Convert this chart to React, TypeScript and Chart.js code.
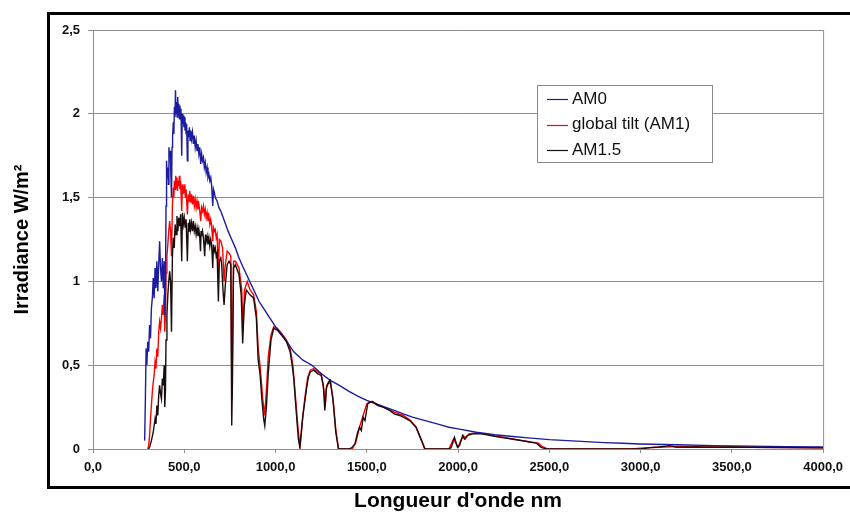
import React, { useEffect, useRef } from "react";
import { Chart, registerables } from "chart.js";

Chart.register(...registerables);

// ---- Data (wavelength nm, irradiance W/m²/nm) ----
const am0Wl = [
  283, 287, 291, 295, 300, 305, 310, 315, 320, 325, 330, 335, 340, 345, 350, 355, 360, 365, 370, 375,
  380, 385, 390, 394, 397, 400, 403, 406, 410, 413, 416, 420, 423, 426, 430, 433, 436, 440, 443, 446,
  449, 452, 455, 458, 461, 464, 467, 470, 473, 476, 479, 482, 486, 489, 492, 495, 498, 501, 504, 507,
  510, 513, 517, 520, 524, 528, 532, 536, 540, 545, 550, 555, 560, 565, 570, 575, 580, 585, 590, 595,
  600, 605, 610, 615, 620, 625, 630, 635, 640, 645, 650, 656, 660, 665, 670, 680, 690, 700, 710, 720,
  740, 760, 780, 800, 820, 850, 880, 910, 940, 970, 1000, 1050, 1100, 1150, 1200, 1250, 1300, 1350,
  1400, 1450, 1500, 1550, 1600, 1650, 1700, 1750, 1800, 1850, 1900, 1950, 2000, 2100, 2200, 2300, 2400,
  2500, 2600, 2700, 2800, 2900, 3000, 3200, 3400, 3600, 3800, 4000,
];
const am0Val = [
  0.05, 0.3, 0.6, 0.5, 0.64, 0.58, 0.74, 0.66, 0.84, 0.9, 1.02, 0.9, 1.08, 0.96, 1.12, 0.94, 1.1, 1.24, 1.08, 1.0,
  1.14, 0.96, 1.12, 0.8, 0.95, 1.45, 1.72, 1.62, 1.68, 1.58, 1.8, 1.74, 1.78, 1.66, 1.5, 1.8, 1.86, 1.95, 1.88, 2.04,
  1.98, 2.14, 2.0, 2.07, 1.98, 2.1, 2.02, 2.06, 1.97, 2.05, 1.99, 2.03, 1.75, 2.0, 1.94, 1.99, 1.92, 1.98, 1.9, 1.95,
  1.88, 1.94, 1.72, 1.9, 1.86, 1.92, 1.84, 1.9, 1.85, 1.89, 1.82, 1.87, 1.8, 1.84, 1.78, 1.82, 1.76, 1.8, 1.7, 1.76,
  1.72, 1.74, 1.68, 1.71, 1.65, 1.68, 1.62, 1.64, 1.6, 1.62, 1.57, 1.45, 1.55, 1.53, 1.5, 1.48, 1.44, 1.42, 1.39, 1.36,
  1.3, 1.25, 1.2, 1.14, 1.09, 1.02, 0.95, 0.88, 0.83, 0.78, 0.73, 0.66, 0.58, 0.53, 0.5, 0.45, 0.41, 0.38,
  0.345, 0.315, 0.29, 0.27, 0.25, 0.23, 0.21, 0.19, 0.175, 0.16, 0.145, 0.13, 0.12, 0.1, 0.085, 0.075, 0.065,
  0.056, 0.05, 0.044, 0.038, 0.034, 0.03, 0.025, 0.02, 0.017, 0.014, 0.012,
];

const tiltWl = [
  300, 305, 310, 315, 320, 325, 330, 335, 340, 345, 350, 355, 360, 365, 370, 375, 380, 385, 390, 393,
  397, 400, 405, 410, 415, 420, 425, 430, 435, 440, 443, 446, 450, 453, 456, 460, 463, 466, 470, 473,
  476, 480, 486, 490, 493, 496, 500, 503, 506, 510, 517, 522, 526, 530, 535, 540, 545, 550, 555, 560,
  565, 570, 575, 580, 585, 590, 595, 600, 605, 610, 615, 620, 625, 630, 635, 640, 645, 650, 656, 660,
  665, 670, 675, 680, 687, 692, 700, 710, 718, 725, 735, 745, 755, 761, 765, 770, 780, 800, 815, 822,
  830, 845, 860, 880, 895, 905, 915, 930, 940, 950, 960, 975, 990, 1010, 1040, 1060, 1080, 1095, 1110,
  1125, 1135, 1145, 1160, 1175, 1190, 1210, 1230, 1250, 1265, 1272, 1280, 1300, 1315, 1330, 1345, 1400,
  1420, 1440, 1460, 1480, 1500, 1530, 1560, 1600, 1650, 1700, 1740, 1770, 1800, 1820, 1950, 1975, 1990,
  2000, 2015, 2030, 2040, 2060, 2100, 2150, 2200, 2250, 2300, 2350, 2400, 2440, 2460, 2490, 2950, 3000,
  3100, 3200, 3400, 3600, 3800, 4000,
];
const tiltVal = [
  0.0, 0.02, 0.08, 0.18, 0.26, 0.34, 0.4, 0.44, 0.52, 0.48, 0.6, 0.55, 0.7, 0.76, 0.72, 0.78, 0.86, 0.8, 0.92, 0.7,
  0.8, 1.05, 1.15, 1.22, 1.3, 1.36, 1.3, 1.15, 1.45, 1.56, 1.5, 1.6, 1.55, 1.63, 1.56, 1.62, 1.54, 1.6, 1.57, 1.63,
  1.55, 1.6, 1.42, 1.58, 1.52, 1.57, 1.53, 1.58, 1.5, 1.55, 1.4, 1.52, 1.48, 1.54, 1.47, 1.52, 1.46, 1.51, 1.45, 1.49,
  1.44, 1.48, 1.43, 1.46, 1.42, 1.36, 1.44, 1.42, 1.45, 1.4, 1.43, 1.38, 1.41, 1.36, 1.39, 1.34, 1.37, 1.33, 1.24, 1.32,
  1.3, 1.31, 1.26, 1.28, 1.05, 1.25, 1.24, 1.2, 1.0, 1.1, 1.18, 1.17, 1.15, 0.3, 0.7, 1.12, 1.12, 1.08, 0.95, 0.7,
  0.95, 1.0, 0.95, 0.92, 0.82, 0.6, 0.5, 0.3, 0.2, 0.35, 0.55, 0.68, 0.73, 0.72, 0.68, 0.65, 0.6, 0.5, 0.3,
  0.1, 0.02, 0.15, 0.3, 0.42, 0.47, 0.48, 0.46, 0.45, 0.35, 0.25, 0.38, 0.4, 0.3, 0.12, 0.0, 0.0,
  0.0, 0.04, 0.13, 0.2, 0.27, 0.285, 0.26, 0.245, 0.22, 0.2, 0.17, 0.13, 0.05, 0.0, 0.0, 0.06, 0.03,
  0.01, 0.05, 0.08, 0.06, 0.09, 0.095, 0.09, 0.08, 0.07, 0.06, 0.05, 0.04, 0.035, 0.015, 0.0, 0.0, 0.005,
  0.01, 0.015, 0.012, 0.01, 0.008, 0.007,
];

const am15Wl = [
  305, 310, 320, 330, 340, 345, 350, 355, 360, 365, 370, 375, 380, 385, 390, 393, 397, 400, 405, 410,
  415, 420, 425, 430, 435, 440, 445, 450, 455, 460, 465, 470, 475, 480, 486, 490, 495, 500, 505, 510,
  517, 522, 526, 530, 535, 540, 545, 550, 555, 560, 565, 570, 575, 580, 585, 589, 592, 595, 600, 605,
  612, 616, 620, 625, 630, 635, 640, 645, 650, 656, 660, 665, 670, 675, 680, 687, 692, 700, 705, 712,
  718, 725, 735, 745, 755, 760, 764, 770, 780, 800, 812, 820, 828, 840, 860, 880, 895, 905, 915, 925,
  935, 941, 950, 960, 975, 990, 1010, 1040, 1060, 1080, 1090, 1100, 1115, 1125, 1133, 1140, 1150, 1160,
  1170, 1180, 1190, 1210, 1230, 1250, 1262, 1270, 1278, 1290, 1300, 1315, 1330, 1345, 1405, 1420, 1435,
  1450, 1460, 1470, 1480, 1490, 1505, 1520, 1533, 1560, 1590, 1625, 1650, 1680, 1700, 1735, 1770, 1800,
  1817, 1953, 1963, 1980, 1997, 2008, 2025, 2035, 2050, 2080, 2130, 2200, 2260, 2320, 2380, 2430, 2455,
  2485, 3000, 3050, 3100, 3160, 3200, 3300, 3400, 3500, 3600, 3800, 4000,
];
const am15Val = [
  0.0, 0.01, 0.05, 0.1, 0.18, 0.15, 0.26, 0.2, 0.32, 0.38, 0.33, 0.3, 0.42, 0.38, 0.5, 0.25, 0.35, 0.65, 0.8, 0.92,
  1.0, 1.06, 1.0, 0.7, 1.15, 1.26, 1.2, 1.34, 1.28, 1.39, 1.3, 1.38, 1.33, 1.4, 1.12, 1.41, 1.34, 1.38, 1.32, 1.37,
  1.12, 1.35, 1.3, 1.37, 1.31, 1.35, 1.3, 1.36, 1.3, 1.33, 1.28, 1.32, 1.27, 1.31, 1.26, 1.18, 1.3, 1.27, 1.3, 1.26,
  1.15, 1.28, 1.24, 1.27, 1.22, 1.26, 1.21, 1.25, 1.22, 1.08, 1.22, 1.18, 1.2, 1.15, 1.17, 0.88, 1.12, 1.14, 1.1, 0.95,
  0.86, 0.98, 1.1, 1.12, 1.1, 0.14, 0.4, 1.08, 1.1, 1.04, 0.92, 0.63, 0.85, 0.95, 0.92, 0.9, 0.78, 0.53, 0.45, 0.3,
  0.18, 0.14, 0.25, 0.45, 0.65, 0.72, 0.71, 0.67, 0.64, 0.58, 0.51, 0.42, 0.2, 0.06, 0.01, 0.08, 0.2, 0.28,
  0.36, 0.43, 0.46, 0.47, 0.45, 0.44, 0.38, 0.23, 0.36, 0.4, 0.41, 0.29, 0.1, 0.0, 0.0, 0.01, 0.03,
  0.1, 0.13, 0.11, 0.19, 0.17, 0.27, 0.28, 0.28, 0.26, 0.25, 0.23, 0.21, 0.2, 0.19, 0.17, 0.13, 0.05,
  0.0, 0.0, 0.01, 0.07, 0.01, 0.02, 0.08, 0.06, 0.08, 0.09, 0.09, 0.075, 0.065, 0.055, 0.045, 0.035, 0.01,
  0.0, 0.0, 0.008, 0.012, 0.02, 0.01, 0.012, 0.01, 0.012, 0.01, 0.008, 0.007,
];

const seriesLabels = ["AM0", "global tilt (AM1)", "AM1.5"];
const xTickLabels = ["0,0", "500,0", "1000,0", "1500,0", "2000,0", "2500,0", "3000,0", "3500,0", "4000,0"];
const yTickLabels = ["0", "0,5", "1", "1,5", "2", "2,5"];

const FONT = "'Liberation Sans', Arial, Helvetica, sans-serif";
const COLORS = ["#1c1c9e", "#ff0000", "#1a0d0d"];

const toPoints = (wl: number[], val: number[]) => wl.map((x, i) => ({ x, y: val[i] }));

const decorPlugin = {
  id: "decor",
  afterDraw(chart: any) {
    const ctx = chart.ctx;
    const area = chart.chartArea;
    ctx.save();
    // right border of plot area
    ctx.strokeStyle = "#8f8f8f";
    ctx.lineWidth = 1;
    ctx.beginPath();
    ctx.moveTo(area.right + 0.5, area.top);
    ctx.lineTo(area.right + 0.5, area.bottom);
    ctx.stroke();
    // outer black frame (open on the right edge of the picture)
    ctx.strokeStyle = "#000";
    ctx.lineWidth = 3;
    ctx.beginPath();
    ctx.moveTo(852, 13.5);
    ctx.lineTo(48.5, 13.5);
    ctx.lineTo(48.5, 487.5);
    ctx.lineTo(852, 487.5);
    ctx.stroke();
    // legend
    const lx = 537, ly = 85, lw = 175, lh = 77;
    ctx.fillStyle = "#fff";
    ctx.fillRect(lx, ly, lw, lh);
    ctx.strokeStyle = "#8a8a8a";
    ctx.lineWidth = 1;
    ctx.strokeRect(lx + 0.5, ly + 0.5, lw, lh);
    ctx.font = `17px ${FONT}`;
    ctx.textBaseline = "middle";
    ctx.textAlign = "left";
    chart.data.datasets.forEach((ds: any, i: number) => {
      const y = ly + 14 + i * 25.5;
      ctx.strokeStyle = ds.borderColor;
      ctx.lineWidth = 1.2;
      ctx.beginPath();
      ctx.moveTo(lx + 10, Math.round(y) + 0.5);
      ctx.lineTo(lx + 31, Math.round(y) + 0.5);
      ctx.stroke();
      ctx.fillStyle = "#111";
      ctx.fillText(ds.label, lx + 35, y);
    });
    ctx.restore();
  },
};

export default function App() {
  const ref = useRef<HTMLCanvasElement | null>(null);
  useEffect(() => {
    if (!ref.current) return;
    const chart = new Chart(ref.current, {
      type: "line",
      data: {
        datasets: [
          { label: seriesLabels[0], data: toPoints(am0Wl, am0Val), borderColor: COLORS[0], order: 1 },
          { label: seriesLabels[1], data: toPoints(tiltWl, tiltVal), borderColor: COLORS[1], order: 2 },
          { label: seriesLabels[2], data: toPoints(am15Wl, am15Val), borderColor: COLORS[2], order: 0 },
        ].map((d) => ({ ...d, borderWidth: 1.4, pointRadius: 0, tension: 0, fill: false })),
      },
      options: {
        animation: false,
        responsive: false,
        events: [],
        layout: { padding: { left: 0, right: 26, top: 30, bottom: 0 } },
        plugins: { legend: { display: false }, tooltip: { enabled: false } },
        scales: {
          x: {
            type: "linear",
            min: 0,
            max: 4000,
            ticks: {
              stepSize: 500,
              autoSkip: false,
              maxRotation: 0,
              padding: 7,
              color: "#111",
              font: { family: FONT, size: 13, weight: "bold" },
              callback: (_v: any, i: number) => xTickLabels[i] ?? "",
            },
            grid: { display: true, drawOnChartArea: false, tickLength: 4, color: "#8f8f8f" },
            border: { color: "#8f8f8f" },
            title: {
              display: true,
              text: "Longueur d'onde nm",
              color: "#000",
              font: { family: FONT, size: 21, weight: "bold" },
              padding: { top: 0, bottom: 2 },
            },
            afterFit: (s: any) => {
              s.height = 67;
            },
          },
          y: {
            min: 0,
            max: 2.5,
            ticks: {
              stepSize: 0.5,
              padding: 8,
              color: "#111",
              font: { family: FONT, size: 13, weight: "bold" },
              callback: (_v: any, i: number) => yTickLabels[i] ?? "",
            },
            grid: { color: "#8f8f8f", tickLength: 5 },
            border: { color: "#8f8f8f" },
            title: {
              display: true,
              text: "Irradiance W/m²",
              color: "#000",
              font: { family: FONT, size: 20, weight: "bold" },
              padding: { top: 10, bottom: 0 },
            },
            afterFit: (s: any) => {
              s.width = 93;
            },
          },
        },
      },
      plugins: [decorPlugin],
    } as any);
    return () => chart.destroy();
  }, []);
  return (
    <div style={{ position: "fixed", left: 0, top: 0, width: 850, height: 516, background: "#fff" }}>
      <canvas ref={ref} width={850} height={516} style={{ display: "block" }} />
    </div>
  );
}
